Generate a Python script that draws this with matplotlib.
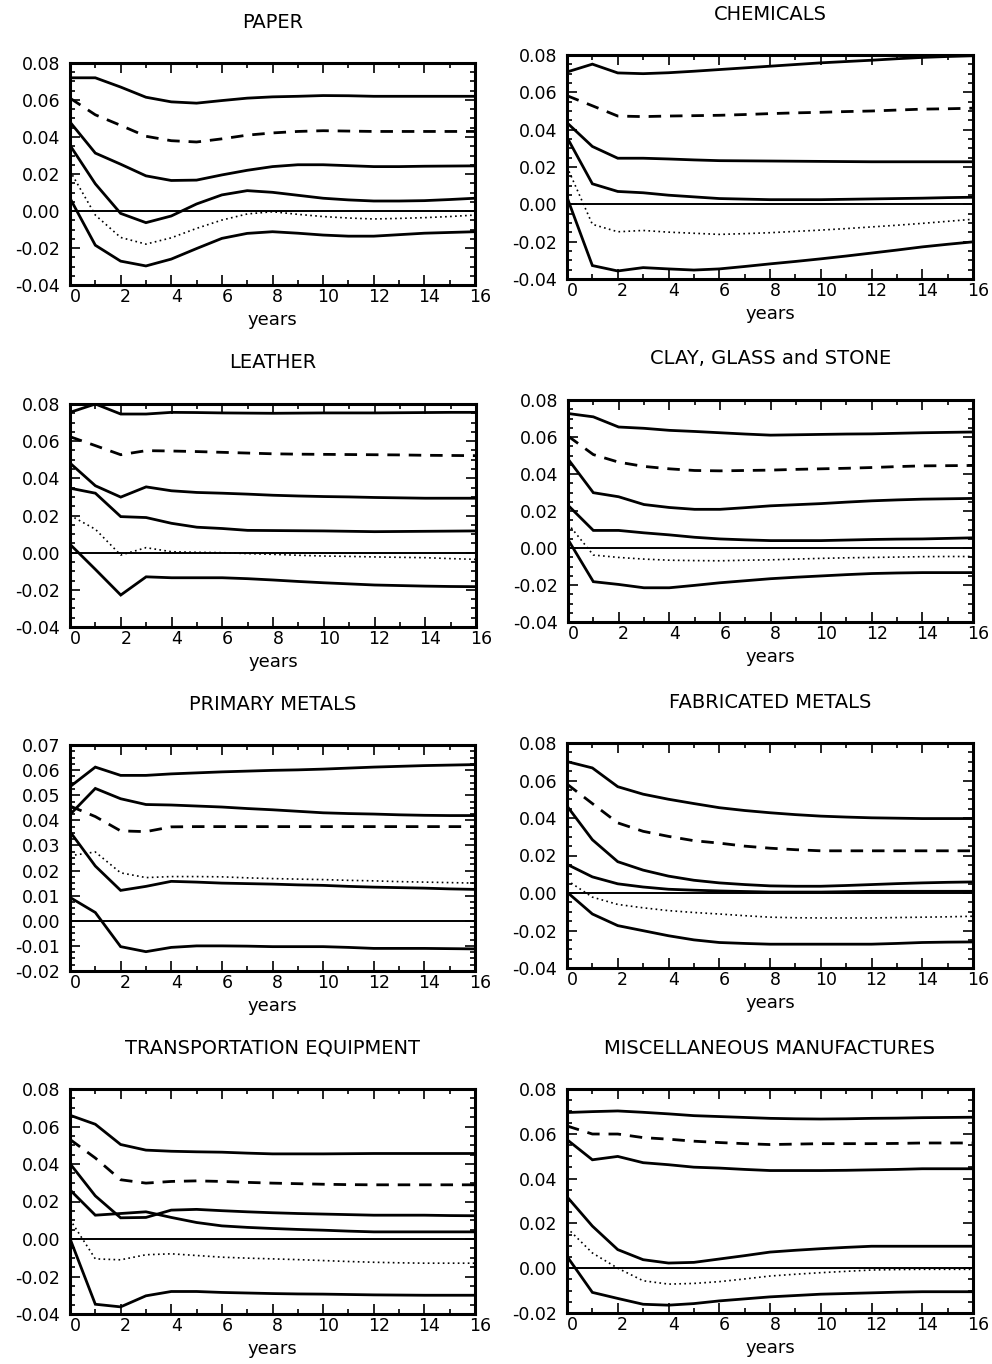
import numpy as np
import matplotlib
matplotlib.use('Agg')
import matplotlib.pyplot as plt
from matplotlib.ticker import MultipleLocator, FormatStrFormatter
import matplotlib.transforms as mtransforms

plt.rcParams['font.family'] = ['DejaVu Sans']

years = np.arange(17)

# PAPER
paper_top = [0.072, 0.072, 0.067, 0.0615, 0.059, 0.0583, 0.0597, 0.061, 0.0617, 0.062, 0.0624, 0.0623, 0.062, 0.062, 0.062, 0.062, 0.062]
paper_dash = [0.061, 0.052, 0.0463, 0.0404, 0.038, 0.0373, 0.039, 0.041, 0.0422, 0.043, 0.0434, 0.0432, 0.043, 0.043, 0.043, 0.043, 0.043]
paper_s3 = [0.0481, 0.0313, 0.0253, 0.019, 0.0165, 0.0167, 0.0195, 0.022, 0.024, 0.025, 0.025, 0.0245, 0.024, 0.024, 0.0242, 0.0243, 0.0244]
paper_s4 = [0.0355, 0.0147, -0.0013, -0.0063, -0.0027, 0.0038, 0.0087, 0.011, 0.0101, 0.0085, 0.0069, 0.006, 0.0054, 0.0054, 0.0056, 0.0062, 0.0069]
paper_dot = [0.0217, -0.0022, -0.0143, -0.0179, -0.0145, -0.0094, -0.0049, -0.0016, -0.0004, -0.0018, -0.003, -0.0038, -0.0043, -0.004, -0.0036, -0.003, -0.0022]
paper_bot = [0.0069, -0.0185, -0.0271, -0.0297, -0.026, -0.0203, -0.0148, -0.0121, -0.0112, -0.012, -0.013, -0.0136, -0.0136, -0.0128, -0.012, -0.0116, -0.0112]

# CHEMICALS
chem_top = [0.0709, 0.0751, 0.0704, 0.070, 0.0705, 0.0713, 0.0722, 0.0731, 0.074, 0.0749, 0.0758, 0.0765, 0.0772, 0.078, 0.0787, 0.0792, 0.0796]
chem_dash = [0.0582, 0.0528, 0.0473, 0.047, 0.0473, 0.0475, 0.0477, 0.0481, 0.0486, 0.049, 0.0493, 0.0497, 0.050, 0.0505, 0.051, 0.0512, 0.0515]
chem_s3 = [0.0437, 0.031, 0.0247, 0.0247, 0.0243, 0.0238, 0.0234, 0.0233, 0.0232, 0.0231, 0.023, 0.0229, 0.0228, 0.0228, 0.0228, 0.0228, 0.0228]
chem_s4 = [0.0359, 0.011, 0.0069, 0.0062, 0.0049, 0.004, 0.0031, 0.0028, 0.0025, 0.0025, 0.0025, 0.0027, 0.0029, 0.0031, 0.0033, 0.0036, 0.0038]
chem_dot = [0.0201, -0.0107, -0.0147, -0.014, -0.0149, -0.0155, -0.0161, -0.0157, -0.0152, -0.0145, -0.0138, -0.013, -0.0121, -0.0112, -0.0102, -0.0091, -0.008]
chem_bot = [0.0038, -0.0328, -0.0357, -0.0339, -0.0346, -0.0352, -0.0346, -0.0333, -0.0319, -0.0306, -0.0292, -0.0277, -0.0261, -0.0245, -0.0228, -0.0214, -0.0201]

# LEATHER
leat_top = [0.0755, 0.080, 0.0746, 0.0746, 0.0755, 0.0754, 0.0752, 0.0751, 0.075, 0.0751, 0.0752, 0.0752, 0.0752, 0.0753, 0.0754, 0.0755, 0.0755]
leat_dash = [0.0624, 0.0576, 0.0527, 0.0549, 0.0547, 0.0544, 0.054, 0.0536, 0.0532, 0.053, 0.0529, 0.0528, 0.0527, 0.0526, 0.0524, 0.0523, 0.0522]
leat_s3 = [0.0482, 0.036, 0.0299, 0.0354, 0.0333, 0.0324, 0.032, 0.0315, 0.0309, 0.0305, 0.0302, 0.030, 0.0297, 0.0295, 0.0293, 0.0293, 0.0293]
leat_s4 = [0.0347, 0.032, 0.0194, 0.0189, 0.0158, 0.0137, 0.013, 0.012, 0.0119, 0.0118, 0.0117, 0.0115, 0.0113, 0.0114, 0.0115, 0.0116, 0.0117]
leat_dot = [0.0201, 0.0126, -0.0013, 0.0027, 0.0005, 0.0002, 0.0, -0.0005, -0.0009, -0.0014, -0.0018, -0.002, -0.0023, -0.0025, -0.0027, -0.0032, -0.0036]
leat_bot = [0.0045, -0.009, -0.0228, -0.013, -0.0135, -0.0135, -0.0135, -0.014, -0.0147, -0.0155, -0.0162, -0.0168, -0.0174, -0.0177, -0.018, -0.0182, -0.0183]

# CLAY, GLASS and STONE
clay_top = [0.0727, 0.0709, 0.0654, 0.0647, 0.0636, 0.063, 0.0623, 0.0616, 0.061, 0.0612, 0.0614, 0.0616, 0.0617, 0.062, 0.0623, 0.0625, 0.0627]
clay_dash = [0.0605, 0.0505, 0.0464, 0.0441, 0.0428, 0.0419, 0.0417, 0.0419, 0.0421, 0.0425, 0.0428, 0.0431, 0.0435, 0.044, 0.0444, 0.0445, 0.0446]
clay_s3 = [0.0481, 0.0299, 0.0277, 0.0235, 0.0219, 0.0209, 0.0209, 0.0218, 0.0228, 0.0234, 0.024, 0.0248, 0.0255, 0.026, 0.0264, 0.0266, 0.0268]
clay_s4 = [0.0231, 0.0095, 0.0095, 0.0082, 0.0071, 0.0058, 0.0049, 0.0044, 0.004, 0.004, 0.004, 0.0043, 0.0046, 0.0048, 0.0049, 0.0052, 0.0055]
clay_dot = [0.0131, -0.0038, -0.0051, -0.006, -0.0066, -0.0068, -0.0069, -0.0066, -0.0064, -0.006, -0.0056, -0.0053, -0.0051, -0.0049, -0.0047, -0.0046, -0.0046]
clay_bot = [0.0046, -0.0182, -0.0197, -0.0215, -0.0215, -0.0202, -0.0188, -0.0177, -0.0166, -0.0158, -0.0151, -0.0144, -0.0138, -0.0135, -0.0133, -0.0133, -0.0133]

# PRIMARY METALS
prim_top = [0.0534, 0.0612, 0.0579, 0.0579, 0.0585, 0.0589, 0.0593, 0.0596, 0.0599, 0.0601, 0.0604, 0.0608, 0.0612, 0.0615, 0.0618, 0.062, 0.0622]
prim_s3 = [0.0423, 0.0527, 0.0486, 0.0463, 0.0461, 0.0457, 0.0453, 0.0447, 0.0442, 0.0436, 0.043, 0.0427, 0.0425, 0.0422, 0.042, 0.0419, 0.0419]
prim_dash = [0.0457, 0.0415, 0.0358, 0.0355, 0.0374, 0.0375, 0.0375, 0.0375, 0.0375, 0.0375, 0.0375, 0.0375, 0.0375, 0.0375, 0.0375, 0.0375, 0.0375]
prim_dot = [0.0259, 0.0274, 0.0191, 0.0172, 0.0176, 0.0176, 0.0175, 0.0171, 0.0168, 0.0166, 0.0164, 0.0161, 0.0159, 0.0156, 0.0154, 0.0152, 0.015]
prim_s4 = [0.0355, 0.0218, 0.0121, 0.0137, 0.0157, 0.0154, 0.015, 0.0148, 0.0146, 0.0143, 0.0141, 0.0137, 0.0134, 0.0132, 0.013, 0.0127, 0.0125]
prim_bot = [0.0093, 0.0033, -0.0103, -0.0123, -0.0106, -0.010, -0.010, -0.0101, -0.0103, -0.0103, -0.0103, -0.0106, -0.011, -0.011, -0.011, -0.0111, -0.0112]

# FABRICATED METALS
fab_top = [0.0701, 0.0667, 0.0567, 0.0527, 0.050, 0.0477, 0.0455, 0.044, 0.0428, 0.0418, 0.041, 0.0405, 0.0401, 0.0399, 0.0397, 0.0397, 0.0397]
fab_dash = [0.0581, 0.0477, 0.0374, 0.0329, 0.0302, 0.0279, 0.0266, 0.025, 0.0239, 0.0231, 0.0225, 0.0225, 0.0225, 0.0225, 0.0225, 0.0225, 0.0225]
fab_s3 = [0.0464, 0.0284, 0.0167, 0.0122, 0.009, 0.0068, 0.0054, 0.0045, 0.0038, 0.0036, 0.0036, 0.004, 0.0045, 0.005, 0.0054, 0.0057, 0.0059]
fab_s4 = [0.0153, 0.0086, 0.0049, 0.0032, 0.002, 0.0015, 0.0011, 0.0008, 0.0005, 0.0005, 0.0005, 0.0007, 0.0009, 0.0009, 0.0009, 0.0009, 0.0009]
fab_dot = [0.0068, -0.0022, -0.0061, -0.0079, -0.0094, -0.0104, -0.0112, -0.0121, -0.0129, -0.0132, -0.0133, -0.0133, -0.0133, -0.0131, -0.0129, -0.0127, -0.0124]
fab_bot = [0.0005, -0.0112, -0.0174, -0.0201, -0.0228, -0.025, -0.0264, -0.0269, -0.0273, -0.0273, -0.0273, -0.0273, -0.0273, -0.0269, -0.0264, -0.0262, -0.0261]

# TRANSPORTATION EQUIPMENT
tran_top = [0.066, 0.0612, 0.0504, 0.0474, 0.0468, 0.0465, 0.0463, 0.0458, 0.0454, 0.0454, 0.0454, 0.0455, 0.0456, 0.0456, 0.0456, 0.0456, 0.0456]
tran_dash = [0.0531, 0.0432, 0.0316, 0.0298, 0.0307, 0.031, 0.0307, 0.0302, 0.0298, 0.0295, 0.0292, 0.029, 0.0289, 0.0289, 0.0289, 0.0289, 0.0289]
tran_s3 = [0.0402, 0.023, 0.0113, 0.0115, 0.0154, 0.0158, 0.0151, 0.0145, 0.014, 0.0136, 0.0133, 0.013, 0.0127, 0.0127, 0.0127, 0.0125, 0.0124]
tran_s4 = [0.0262, 0.0127, 0.0136, 0.0145, 0.0115, 0.0088, 0.007, 0.0062, 0.0056, 0.0051, 0.0047, 0.0042, 0.0038, 0.0038, 0.0038, 0.0038, 0.0038]
tran_dot = [0.0104, -0.0106, -0.0111, -0.0084, -0.0079, -0.0088, -0.0097, -0.0102, -0.0106, -0.011, -0.0115, -0.012, -0.0124, -0.0127, -0.0129, -0.0129, -0.0129]
tran_bot = [0.0002, -0.0348, -0.0362, -0.0303, -0.028, -0.028, -0.0285, -0.0288, -0.0291, -0.0293, -0.0294, -0.0296, -0.0298, -0.0299, -0.030, -0.030, -0.030]

# MISCELLANEOUS MANUFACTURES
misc_top = [0.0695, 0.0699, 0.0702, 0.0696, 0.0689, 0.0681, 0.0677, 0.0673, 0.0669, 0.0667, 0.0666, 0.0667, 0.0669, 0.067, 0.0672, 0.0673, 0.0674]
misc_dash = [0.0635, 0.0599, 0.0599, 0.0583, 0.0576, 0.0567, 0.0561, 0.0556, 0.0552, 0.0554, 0.0556, 0.0556, 0.0556, 0.0557, 0.0559, 0.0559, 0.0559]
misc_s3 = [0.0574, 0.0484, 0.0499, 0.0471, 0.0462, 0.0451, 0.0447, 0.0441, 0.0436, 0.0436, 0.0436, 0.0437, 0.0439, 0.0441, 0.0444, 0.0444, 0.0444]
misc_s4 = [0.0319, 0.0188, 0.0083, 0.0038, 0.0023, 0.0026, 0.0041, 0.0056, 0.0072, 0.008, 0.0087, 0.0093, 0.0098, 0.0098, 0.0098, 0.0098, 0.0098]
misc_dot = [0.018, 0.0068, 0.0, -0.0056, -0.0071, -0.0068, -0.006, -0.0048, -0.0035, -0.0027, -0.002, -0.0014, -0.0008, -0.0006, -0.0005, -0.0005, -0.0005]
misc_bot = [0.0053, -0.0108, -0.0135, -0.0161, -0.0165, -0.0158, -0.0146, -0.0137, -0.0128, -0.0122, -0.0116, -0.0113, -0.011, -0.0107, -0.0105, -0.0105, -0.0105]

titles = ['PAPER', 'CHEMICALS', 'LEATHER', 'CLAY, GLASS and STONE',
          'PRIMARY METALS', 'FABRICATED METALS',
          'TRANSPORTATION EQUIPMENT', 'MISCELLANEOUS MANUFACTURES']

W, H = 992, 1364
fig = plt.figure(figsize=(W / 100, H / 100), dpi=100)

# pixel boxes: left, top, right, bottom
boxes = [(70, 63, 475, 285), (567, 55, 973, 279),
         (70, 404, 476, 627), (568, 400, 973, 622),
         (70, 745, 475, 971), (567, 743, 973, 968),
         (70, 1089, 475, 1314), (567, 1089, 973, 1313)]

panels = [
    (paper_top, paper_dash, paper_s3, paper_s4, paper_dot, paper_bot, (-0.04, 0.08, 0.02)),
    (chem_top, chem_dash, chem_s3, chem_s4, chem_dot, chem_bot, (-0.04, 0.08, 0.02)),
    (leat_top, leat_dash, leat_s3, leat_s4, leat_dot, leat_bot, (-0.04, 0.08, 0.02)),
    (clay_top, clay_dash, clay_s3, clay_s4, clay_dot, clay_bot, (-0.04, 0.08, 0.02)),
    (prim_top, prim_dash, prim_s3, prim_s4, prim_dot, prim_bot, (-0.02, 0.07, 0.01)),
    (fab_top, fab_dash, fab_s3, fab_s4, fab_dot, fab_bot, (-0.04, 0.08, 0.02)),
    (tran_top, tran_dash, tran_s3, tran_s4, tran_dot, tran_bot, (-0.04, 0.08, 0.02)),
    (misc_top, misc_dash, misc_s3, misc_s4, misc_dot, misc_bot, (-0.02, 0.08, 0.02)),
]

for (l, t, r, b), title, (top, dash, s3, s4, dot, bot, (ymin, ymax, ystep)) in zip(boxes, titles, panels):
    ax = fig.add_axes([l / W, (H - b) / H, (r - l) / W, (b - t) / H])
    ax.axhline(0, color='black', lw=1.4)
    for s in (top, s3, s4, bot):
        ax.plot(years, s, color='black', lw=2.0, solid_joinstyle='miter')
    ax.plot(years, dash, color='black', lw=2.0, dashes=(4.5, 3.2))
    ax.plot(years, dot, color='black', lw=1.2, dashes=(1, 2))

    ax.set_xlim(0, 16)
    ax.set_ylim(ymin, ymax)
    ax.xaxis.set_major_locator(MultipleLocator(2))
    ax.xaxis.set_minor_locator(MultipleLocator(1))
    ax.yaxis.set_major_locator(MultipleLocator(ystep))
    ax.yaxis.set_minor_locator(MultipleLocator(ystep / 4))
    ax.yaxis.set_major_formatter(FormatStrFormatter('%.2f'))
    ax.tick_params(which='both', direction='in', top=True, right=True, width=1.2)
    ax.tick_params(which='major', length=7)
    ax.tick_params(which='minor', length=3.5)
    ax.tick_params(axis='y', labelsize=12.5, pad=7)
    ax.tick_params(axis='x', labelsize=12.5, pad=2)
    for sp in ax.spines.values():
        sp.set_linewidth(2.2)
    shift = mtransforms.ScaledTranslation(5 / 100, 0, fig.dpi_scale_trans)
    for lab in ax.get_xticklabels():
        lab.set_transform(lab.get_transform() + shift)

    cx = (l + r) / 2 / W
    fig.text(cx, (H - (t - 41)) / H, title, ha='center', va='center', fontsize=14, color='black')
    fig.text(cx, (H - (b + 35)) / H, 'years', ha='center', va='center', fontsize=13)

fig.savefig('out.png', dpi=100)
